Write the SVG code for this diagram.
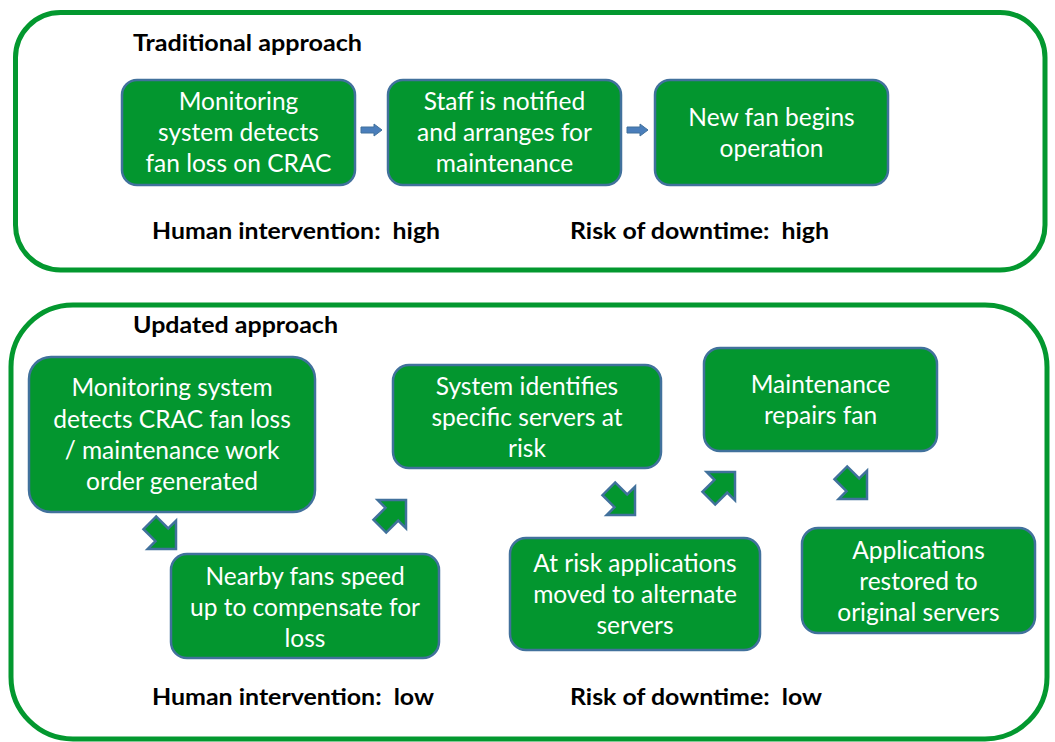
<svg xmlns="http://www.w3.org/2000/svg" width="1055" height="742" viewBox="0 0 1055 742">
<style>
.frame{fill:#fff;stroke:#03982F;stroke-width:5}
.node rect{fill:#03962F;stroke:#41719C;stroke-width:2.5}
.node text{fill:#fff;font-family:Lato,"Open Sans",sans-serif;font-size:24.5px;text-anchor:middle}
.title{font-family:Lato,"Liberation Sans",sans-serif;font-weight:bold;font-size:22px;fill:#000;white-space:pre}
.big{fill:#03962F;stroke:#41719C;stroke-width:2.5;stroke-linejoin:miter}
.small{fill:#4A7EBB;stroke:#41719C;stroke-width:1}
</style>
<defs>
<polygon id="blk" points="0,0 -20,-20 -20,-9 -37,-9 -37,9 -20,9 -20,20"/>
<polygon id="sm" points="0,0 -8,-6 -8,-3 -21,-3 -21,3 -8,3 -8,6"/>
</defs>
<rect class="frame" x="15.5" y="12.5" width="1029.5" height="257.5" rx="45"/>
<rect class="frame" x="11" y="305" width="1036" height="434" rx="62"/>

<text class="title" x="133" y="51" textLength="229" lengthAdjust="spacingAndGlyphs">Traditional approach</text>
<text class="title" x="152" y="239" textLength="288" lengthAdjust="spacingAndGlyphs" xml:space="preserve">Human intervention:  high</text>
<text class="title" x="570" y="239" textLength="259" lengthAdjust="spacingAndGlyphs" xml:space="preserve">Risk of downtime:  high</text>
<text class="title" x="133" y="333" textLength="205" lengthAdjust="spacingAndGlyphs">Updated approach</text>
<text class="title" x="152" y="705" textLength="282" lengthAdjust="spacingAndGlyphs" xml:space="preserve">Human intervention:  low</text>
<text class="title" x="570" y="705" textLength="252" lengthAdjust="spacingAndGlyphs" xml:space="preserve">Risk of downtime:  low</text>

<g id="t1" class="node"><rect x="122" y="80" width="233" height="105" rx="15"/>
<text x="238.5" y="110">Monitoring</text><text x="238.5" y="141">system detects</text><text x="238.5" y="172">fan loss on CRAC</text></g>
<g id="t2" class="node"><rect x="388" y="80" width="233" height="105" rx="15"/>
<text x="504.5" y="110">Staff is notified</text><text x="504.5" y="141">and arranges for</text><text x="504.5" y="172">maintenance</text></g>
<g id="t3" class="node"><rect x="655" y="80" width="233" height="105" rx="15"/>
<text x="771.5" y="126">New fan begins</text><text x="771.5" y="157">operation</text></g>

<g id="u1" class="node"><rect x="29" y="357" width="286" height="155" rx="22"/>
<text x="172" y="396">Monitoring system</text><text x="172" y="428">detects CRAC fan loss</text><text x="172" y="459">/ maintenance work</text><text x="172" y="490">order generated</text></g>
<g id="u2" class="node"><rect x="171" y="554" width="268" height="104" rx="16"/>
<text x="305" y="585">Nearby fans speed</text><text x="305" y="616">up to compensate for</text><text x="305" y="647">loss</text></g>
<g id="u3" class="node"><rect x="393" y="365" width="268" height="103" rx="16"/>
<text x="527" y="395">System identifies</text><text x="527" y="426">specific servers at</text><text x="527" y="457">risk</text></g>
<g id="u4" class="node"><rect x="510" y="538" width="250" height="112" rx="16"/>
<text x="635" y="572">At risk applications</text><text x="635" y="603">moved to alternate</text><text x="635" y="634">servers</text></g>
<g id="u5" class="node"><rect x="704" y="348" width="233" height="103" rx="16"/>
<text x="820.5" y="393">Maintenance</text><text x="820.5" y="424">repairs fan</text></g>
<g id="u6" class="node"><rect x="802" y="528" width="233" height="105" rx="16"/>
<text x="918.5" y="559">Applications</text><text x="918.5" y="590">restored to</text><text x="918.5" y="621">original servers</text></g>

<g id="connectors">
<use href="#sm" class="small" transform="translate(382,130)"/>
<use href="#sm" class="small" transform="translate(648,130)"/>
<use href="#blk" class="big" transform="translate(176,549) rotate(45)"/>
<use href="#blk" class="big" transform="translate(406,500) rotate(-45)"/>
<use href="#blk" class="big" transform="translate(635,515) rotate(45)"/>
<use href="#blk" class="big" transform="translate(735,472) rotate(-45)"/>
<use href="#blk" class="big" transform="translate(867,499) rotate(45)"/>
</g>
</svg>
